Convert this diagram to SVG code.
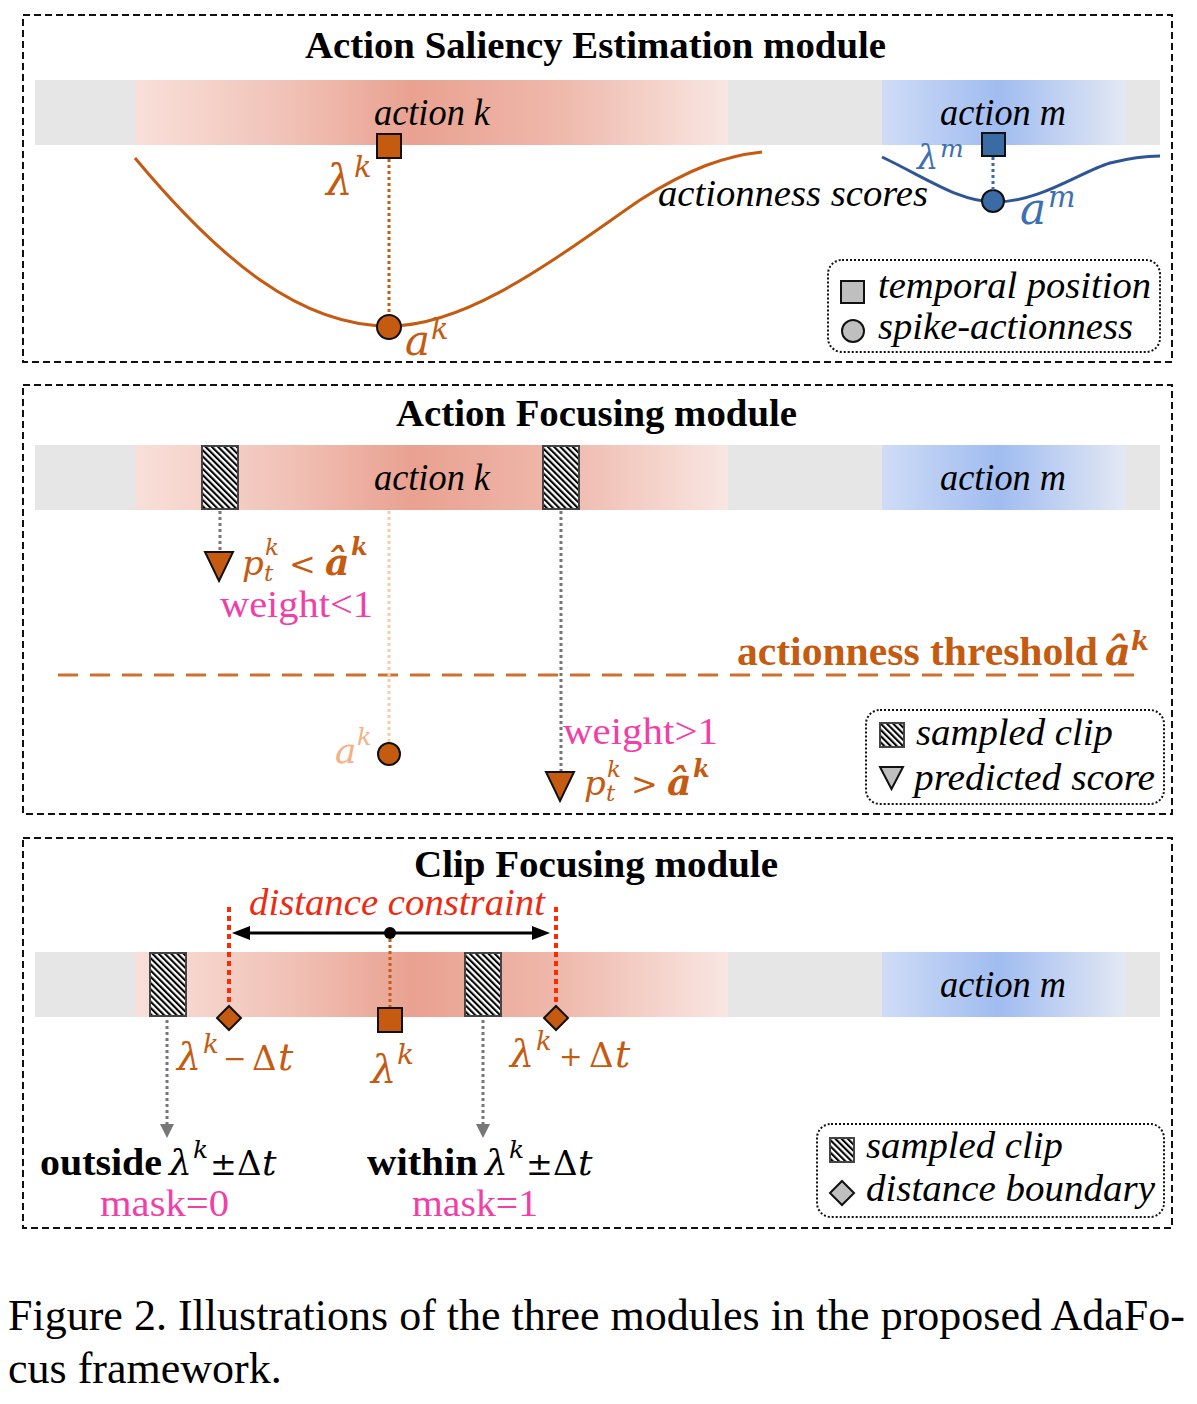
<svg xmlns="http://www.w3.org/2000/svg" width="1197" height="1404" viewBox="0 0 1197 1404">
<defs>
  <linearGradient id="gRed" x1="0" y1="0" x2="1" y2="0">
    <stop offset="0" stop-color="#f8e0da"/>
    <stop offset="0.25" stop-color="#f1c3b8"/>
    <stop offset="0.47" stop-color="#e9a190"/>
    <stop offset="0.72" stop-color="#efb9ac"/>
    <stop offset="1" stop-color="#f9e6e2"/>
  </linearGradient>
  <linearGradient id="gBlue" x1="0" y1="0" x2="1" y2="0">
    <stop offset="0" stop-color="#cfdcf6"/>
    <stop offset="0.48" stop-color="#a0bcf0"/>
    <stop offset="1" stop-color="#e3e8f4"/>
  </linearGradient>
  <pattern id="hatch" width="4.4" height="4.4" patternUnits="userSpaceOnUse" patternTransform="rotate(-45)">
    <rect width="4.4" height="4.4" fill="#fff"/>
    <rect width="2.1" height="4.4" fill="#000"/>
  </pattern>
</defs>
<style>
  .panel{fill:none;stroke:#111;stroke-width:2;stroke-dasharray:7 4}
  .legend{fill:none;stroke:#111;stroke-width:2;stroke-dasharray:2 2}
  .title{font-family:"Liberation Serif",serif;font-weight:bold;font-size:38px;fill:#000}
  .it{font-family:"Liberation Serif",serif;font-style:italic;font-size:38px;fill:#000}
  .m{font-family:"DejaVu Serif",serif;font-style:italic;font-size:36px;fill:#c55a11}
  .up{font-style:normal}
  .bo{font-weight:bold}
  .bk{font-family:"Liberation Serif",serif;font-weight:bold;font-size:38px;fill:#000}
  .mb{font-family:"Liberation Serif",serif;font-weight:bold;font-size:40px;fill:#c55a11}
  .mag{font-family:"Liberation Serif",serif;font-size:37px;fill:#f23fa8}
  .cap{font-family:"Liberation Serif",serif;font-size:44px;fill:#000}
  .gray{fill:#e6e6e6}
  .red{fill:url(#gRed)}
  .blue{fill:url(#gBlue)}
  .clip{fill:url(#hatch);stroke:#444;stroke-width:2}
  .or{fill:#c55a11;stroke:#111;stroke-width:2}
  .bs{fill:#3b6ba5;stroke:#111;stroke-width:2}
  .lg{fill:#bfbfbf;stroke:#111;stroke-width:2}
  .dotO{stroke:#c55a11;stroke-width:3;stroke-dasharray:3 3;fill:none}
  .dotL{stroke:#f8cbad;stroke-width:3;stroke-dasharray:3 3;fill:none}
  .dotG{stroke:#777;stroke-width:3;stroke-dasharray:3 3;fill:none}
  .dotR{stroke:#ff2a00;stroke-width:4;stroke-dasharray:5 4;fill:none}
  .dotB{stroke:#3b6ba5;stroke-width:3;stroke-dasharray:3 3;fill:none}
</style>
<rect width="1197" height="1404" fill="#fff"/>

<!-- Panel 1 -->
<g id="panel1">
  <rect class="panel" x="23" y="15" width="1149" height="347"/>
  <text class="title" x="305" y="58" textLength="581" lengthAdjust="spacingAndGlyphs">Action Saliency Estimation module</text>
  <g id="bar1">
    <rect class="gray" x="35" y="80" width="1125" height="65"/>
    <rect class="red" x="135" y="80" width="593" height="65"/>
    <rect class="blue" x="882" y="80" width="243" height="65"/>
    <text class="it" x="374" y="125" textLength="116" lengthAdjust="spacingAndGlyphs">action k</text>
    <text class="it" x="940" y="125" textLength="126" lengthAdjust="spacingAndGlyphs">action m</text>
  </g>
</g>
<g id="curves1">
  <path d="M135,158 C220,260 300,326 389,326 C470,326 560,255 640,200 C690,168 725,156 762,152" fill="none" stroke="#c55a11" stroke-width="3"/>
  <path d="M882,157 C930,180 960,202 995,202 C1040,202 1080,172 1110,163 C1130,158 1145,156 1160,156" fill="none" stroke="#2e5596" stroke-width="3"/>
  <text class="it" x="658" y="206" textLength="270" lengthAdjust="spacingAndGlyphs">actionness scores</text>
</g>
<g id="node-lambda-k">
  <rect class="or" x="377" y="134" width="24" height="24"/>
  <text class="m"><tspan x="326" y="195" font-size="42">λ</tspan><tspan x="354" y="177" font-size="29">k</tspan></text>
</g>
<g id="node-a-k">
  <circle class="or" cx="389" cy="327" r="12"/>
  <text class="m"><tspan x="405" y="355" font-size="42">a</tspan><tspan x="431" y="339" font-size="29">k</tspan></text>
</g>
<g id="node-lambda-m">
  <rect class="bs" x="982" y="133" width="23" height="23"/>
  <text class="m" style="fill:#3d70b0"><tspan x="917" y="169" font-size="34">λ</tspan><tspan x="940" y="157" font-size="25">m</tspan></text>
</g>
<g id="node-a-m">
  <circle class="bs" cx="993" cy="201" r="11"/>
  <text class="m" style="fill:#3d70b0"><tspan x="1020" y="224" font-size="44">a</tspan><tspan x="1048" y="207" font-size="29">m</tspan></text>
</g>
<g id="legend1">
  <rect class="legend" x="828" y="260" width="332" height="92" rx="14"/>
  <rect class="lg" x="841" y="281" width="23" height="22"/>
  <text class="it" x="878" y="298" textLength="273" lengthAdjust="spacingAndGlyphs">temporal position</text>
  <circle class="lg" cx="853" cy="331" r="11"/>
  <text class="it" x="878" y="339" textLength="255" lengthAdjust="spacingAndGlyphs">spike-actionness</text>
</g>

<!-- Panel 2 -->
<g id="panel2">
  <rect class="panel" x="23" y="385" width="1149" height="429"/>
  <text class="title" x="396" y="426" textLength="401" lengthAdjust="spacingAndGlyphs">Action Focusing module</text>
  <g id="bar2">
    <rect class="gray" x="35" y="445" width="1125" height="65"/>
    <rect class="red" x="135" y="445" width="593" height="65"/>
    <rect class="blue" x="882" y="445" width="243" height="65"/>
    <text class="it" x="374" y="490" textLength="116" lengthAdjust="spacingAndGlyphs">action k</text>
    <text class="it" x="940" y="490" textLength="126" lengthAdjust="spacingAndGlyphs">action m</text>
  </g>
</g>
<g id="node-clip1"><rect class="clip" x="202" y="446" width="36" height="63"/></g>
<g id="node-clip2"><rect class="clip" x="543" y="446" width="36" height="63"/></g>
<g id="node-pred-low">
  <polygon class="or" points="205,552 233,552 219,581"/>
  <text class="m"><tspan x="242" y="575" font-size="34">p</tspan><tspan x="264" y="581" font-size="23">t</tspan><tspan x="265" y="555" font-size="23">k</tspan><tspan class="up" x="289" y="575" font-size="32">&lt;</tspan><tspan class="bo" x="325" y="575" font-size="38">â</tspan><tspan class="bo" x="351" y="555" font-size="24">k</tspan></text>
  <text class="mag" x="220" y="617" textLength="153" lengthAdjust="spacingAndGlyphs">weight&lt;1</text>
</g>
<g id="threshold">
  <line x1="58" y1="675" x2="1140" y2="675" stroke="#d0702a" stroke-width="3" stroke-dasharray="20 12"/>
  <text class="mb" x="737" y="665" textLength="361" lengthAdjust="spacingAndGlyphs">actionness threshold</text>
  <text class="m" style="font-weight:bold"><tspan x="1105" y="665" font-size="40">â</tspan><tspan x="1131" y="650" font-size="26">k</tspan></text>
</g>
<g id="node-a-k-2">
  <circle class="or" cx="389" cy="754" r="11"/>
  <text class="m" style="fill:#f4b183"><tspan x="335" y="763" font-size="36">a</tspan><tspan x="357" y="745" font-size="24">k</tspan></text>
</g>
<g id="node-pred-high">
  <polygon class="or" points="546,772 574,772 560,801"/>
  <text class="mag" x="563" y="744" textLength="155" lengthAdjust="spacingAndGlyphs">weight&gt;1</text>
  <text class="m"><tspan x="584" y="795" font-size="34">p</tspan><tspan x="606" y="801" font-size="23">t</tspan><tspan x="607" y="777" font-size="23">k</tspan><tspan class="up" x="631" y="795" font-size="32">&gt;</tspan><tspan class="bo" x="667" y="795" font-size="38">â</tspan><tspan class="bo" x="693" y="777" font-size="24">k</tspan></text>
</g>
<g id="legend2">
  <rect class="legend" x="866" y="710" width="298" height="94" rx="14"/>
  <rect class="clip" x="880" y="723" width="24" height="24"/>
  <text class="it" x="916" y="745" textLength="197" lengthAdjust="spacingAndGlyphs">sampled clip</text>
  <polygon class="lg" points="880,767 903,767 891.5,789"/>
  <text class="it" x="914" y="790" textLength="241" lengthAdjust="spacingAndGlyphs">predicted score</text>
</g>

<!-- Panel 3 -->
<g id="panel3">
  <rect class="panel" x="23" y="838" width="1149" height="390"/>
  <text class="title" x="414" y="877" textLength="364" lengthAdjust="spacingAndGlyphs">Clip Focusing module</text>
  <g id="bar3">
    <rect class="gray" x="35" y="952" width="1125" height="65"/>
    <rect class="red" x="135" y="952" width="593" height="65"/>
    <rect class="blue" x="882" y="952" width="243" height="65"/>
    <text class="it" x="940" y="997" textLength="126" lengthAdjust="spacingAndGlyphs">action m</text>
  </g>
  <text class="it" x="249" y="915" textLength="296" lengthAdjust="spacingAndGlyphs" style="fill:#ee2a12">distance constraint</text>
</g>

<g id="connectors">
  <line class="dotO" x1="389" y1="159" x2="389" y2="315"/>
  <line class="dotB" x1="993" y1="157" x2="993" y2="190"/>
  <line class="dotG" x1="220" y1="511" x2="220" y2="551"/>
  <line class="dotL" x1="389" y1="511" x2="389" y2="742"/>
  <line class="dotG" x1="561" y1="511" x2="561" y2="771"/>
  <line class="dotR" x1="229" y1="907" x2="229" y2="1006"/>
  <line class="dotR" x1="556" y1="907" x2="556" y2="1006"/>
  <line x1="245" y1="933" x2="537" y2="933" stroke="#000" stroke-width="3"/>
  <polygon points="232,933 250,926 250,940" fill="#000"/>
  <polygon points="550,933 532,926 532,940" fill="#000"/>
  <circle cx="390" cy="933" r="6" fill="#000"/>
  <line class="dotO" x1="390" y1="939" x2="390" y2="1008"/>
  <line class="dotG" x1="167" y1="1020" x2="167" y2="1124"/>
  <polygon points="160,1124 174,1124 167,1138" fill="#777"/>
  <line class="dotG" x1="483" y1="1020" x2="483" y2="1124"/>
  <polygon points="476,1124 490,1124 483,1138" fill="#777"/>
</g>

<g id="node-clip3"><rect class="clip" x="150" y="953" width="36" height="63"/></g>
<g id="node-clip4"><rect class="clip" x="465" y="953" width="36" height="63"/></g>
<g id="node-lower-bound">
  <polygon class="or" points="229,1006 241,1018 229,1030 217,1018"/>
  <text class="m"><tspan x="177" y="1070" font-size="38">λ</tspan><tspan x="203" y="1053" font-size="26">k</tspan><tspan class="up" x="223" y="1068" font-size="28">−</tspan><tspan class="up" x="252" y="1070" font-size="34">Δ</tspan><tspan x="278" y="1070" font-size="38">t</tspan></text>
</g>
<g id="node-center">
  <rect class="or" x="378" y="1008" width="24" height="24"/>
  <text class="m"><tspan x="371" y="1083" font-size="40">λ</tspan><tspan x="397" y="1064" font-size="28">k</tspan></text>
</g>
<g id="node-upper-bound">
  <polygon class="or" points="556,1006 568,1018 556,1030 544,1018"/>
  <text class="m"><tspan x="510" y="1067" font-size="38">λ</tspan><tspan x="536" y="1050" font-size="26">k</tspan><tspan class="up" x="559" y="1066" font-size="28">+</tspan><tspan class="up" x="589" y="1067" font-size="34">Δ</tspan><tspan x="615" y="1067" font-size="38">t</tspan></text>
</g>
<g id="node-outside">
  <text class="bk" x="40" y="1175" textLength="122" lengthAdjust="spacingAndGlyphs">outside</text>
  <text class="m" style="fill:#000"><tspan x="169" y="1175" font-size="36">λ</tspan><tspan x="193" y="1158" font-size="25">k</tspan><tspan class="up" x="210" y="1175" font-size="32">±</tspan><tspan class="up" x="237" y="1175" font-size="34">Δ</tspan><tspan x="262" y="1175" font-size="36">t</tspan></text>
  <text class="mag" x="100" y="1216" textLength="129" lengthAdjust="spacingAndGlyphs">mask=0</text>
</g>
<g id="node-within">
  <text class="bk" x="367" y="1175" textLength="111" lengthAdjust="spacingAndGlyphs">within</text>
  <text class="m" style="fill:#000"><tspan x="485" y="1175" font-size="36">λ</tspan><tspan x="509" y="1158" font-size="25">k</tspan><tspan class="up" x="526" y="1175" font-size="32">±</tspan><tspan class="up" x="553" y="1175" font-size="34">Δ</tspan><tspan x="578" y="1175" font-size="36">t</tspan></text>
  <text class="mag" x="412" y="1216" textLength="126" lengthAdjust="spacingAndGlyphs">mask=1</text>
</g>
<g id="legend3">
  <rect class="legend" x="817" y="1124" width="347" height="93" rx="14"/>
  <rect class="clip" x="830" y="1138" width="24" height="24"/>
  <text class="it" x="866" y="1158" textLength="197" lengthAdjust="spacingAndGlyphs">sampled clip</text>
  <polygon class="lg" points="842,1181 854,1193 842,1205 830,1193"/>
  <text class="it" x="866" y="1201" textLength="289" lengthAdjust="spacingAndGlyphs">distance boundary</text>
</g>

<g id="caption">
  <text class="cap" x="8" y="1330" textLength="1177" lengthAdjust="spacingAndGlyphs">Figure 2. Illustrations of the three modules in the proposed AdaFo-</text>
  <text class="cap" x="8" y="1383">cus framework.</text>
</g>
</svg>
